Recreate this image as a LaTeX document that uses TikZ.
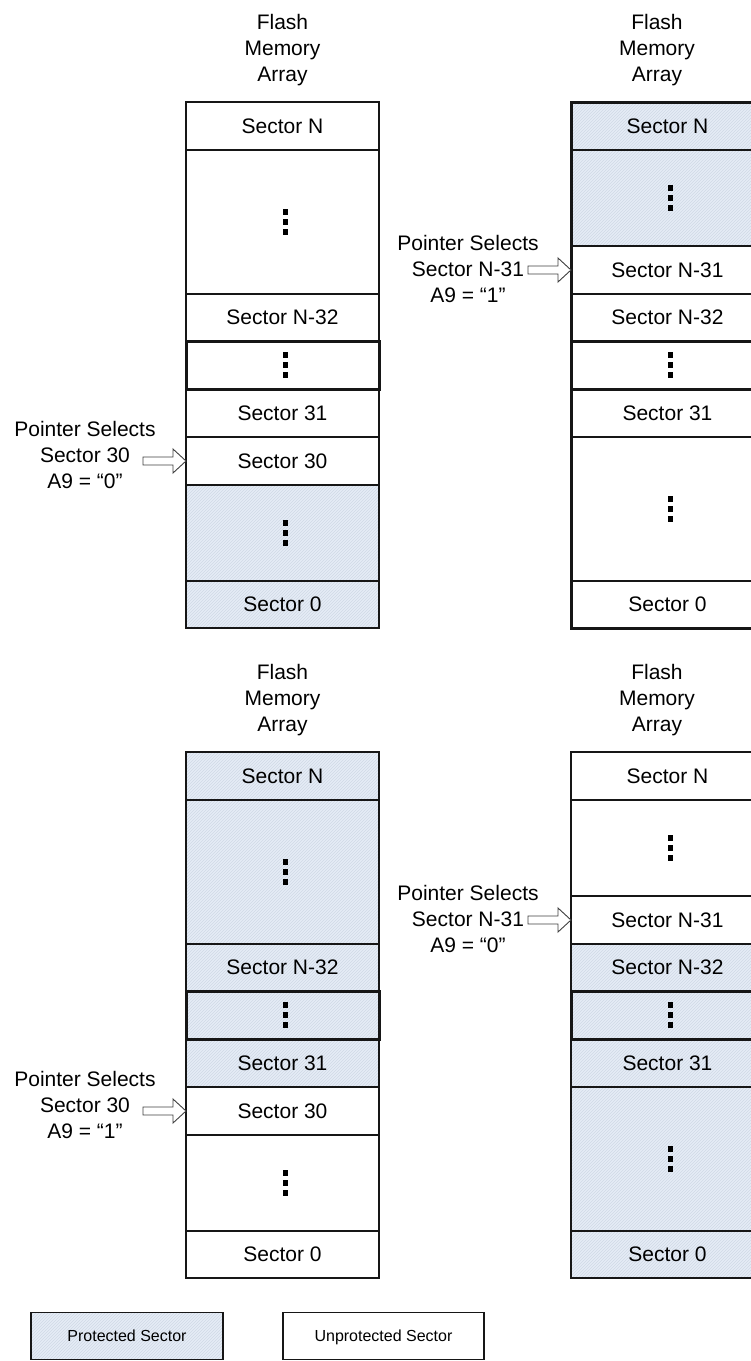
\documentclass[tikz,border=0pt]{standalone}
\usepackage{fontspec}
\setmainfont{Liberation Sans}
\usetikzlibrary{patterns}
\definecolor{protfill}{HTML}{E5ECF6}
\definecolor{protline}{HTML}{D0D9E6}
\definecolor{edge}{HTML}{161616}
\newcommand\lblfont{\fontsize{21}{26}\selectfont}
\newcommand\keyfont{\fontsize{16}{19}\selectfont}
% three square dots, nudged a bit to the right like the original
\newcommand\sqdots{\vbox{\offinterlineskip
  \hbox{\hskip6pt\rule{5.5pt}{5.5pt}}\vskip4.5pt
  \hbox{\hskip6pt\rule{5.5pt}{5.5pt}}\vskip4.5pt
  \hbox{\hskip6pt\rule{5.5pt}{5.5pt}}}}
% hollow block arrow pointing at the west side of a cell
\newcommand\selarrow[1]{\draw[ptr] (#1.west) -- ++(-13,-12) -- ++(0,8)
  -- ++(-30,0) -- ++(0,8) -- ++(30,0) -- ++(0,8) -- cycle;}

\begin{document}
\begin{tikzpicture}[x=1pt,y=-1pt,
    cell/.style={draw=edge,line width=1.6pt,minimum width=193pt,inner sep=0pt,
                 outer sep=0pt,anchor=north,font=\lblfont},
    prot/.style={cell,preaction={fill=protfill},pattern=north east lines,
                 pattern color=protline},
    key/.style={font=\keyfont,text depth=0pt,minimum height=47pt},
    hd/.style={font=\lblfont,align=center,inner sep=0pt},
    ptr/.style={draw=black!75,line width=0.9pt,fill=white,line join=miter},
    heavy/.style={draw=edge,line width=3pt}]
  \path[use as bounding box,clip] (0,0) rectangle (751,1361);

  % top left array
  \node[hd] (ta) at (282.5,50) {Flash\\Memory\\Array};
  \node[cell,minimum height=48pt] (aN) at (282.5,102) {Sector N};
  \node[cell,minimum height=144pt] (aU) at (282.5,150) {\sqdots};
  \node[cell,minimum height=47pt] (aN32) at (282.5,294) {Sector N-32};
  \node[cell,minimum height=48pt] (aM) at (282.5,341) {\sqdots};
  \node[cell,minimum height=48pt] (a31) at (282.5,389) {Sector 31};
  \node[cell,minimum height=48pt] (a30) at (282.5,437) {Sector 30};
  \node[prot,minimum height=96pt] (aL) at (282.5,485) {\sqdots};
  \node[prot,minimum height=47pt] (a0) at (282.5,581) {Sector 0};
  \draw[heavy] (aM.north west) rectangle (aM.south east);
  \node[hd] (pa) at (85,455) {Pointer Selects\\Sector 30\\A9 = “0”};
  \selarrow{a30}

  % top right array
  \node[hd] (tb) at (657,50) {Flash\\Memory\\Array};
  \node[prot,minimum height=48pt] (bN) at (667.5,102) {Sector N};
  \node[prot,minimum height=96pt] (bU) at (667.5,150) {\sqdots};
  \node[cell,minimum height=48pt] (bN31) at (667.5,246) {Sector N-31};
  \node[cell,minimum height=47pt] (bN32) at (667.5,294) {Sector N-32};
  \node[cell,minimum height=48pt] (bM) at (667.5,341) {\sqdots};
  \node[cell,minimum height=48pt] (b31) at (667.5,389) {Sector 31};
  \node[cell,minimum height=144pt] (bL) at (667.5,437) {\sqdots};
  \node[cell,minimum height=47pt] (b0) at (667.5,581) {Sector 0};
  \draw[heavy] (bM.north west) rectangle (bM.south east);
  \draw[heavy] (bN.north west) rectangle (b0.south east);
  \node[hd] (pb) at (468,268.5) {Pointer Selects\\Sector N-31\\A9 = “1”};
  \selarrow{bN31}

  % bottom left array
  \node[hd] (tc) at (282.5,700) {Flash\\Memory\\Array};
  \node[prot,minimum height=48pt] (cN) at (282.5,752) {Sector N};
  \node[prot,minimum height=144pt] (cU) at (282.5,800) {\sqdots};
  \node[prot,minimum height=47pt] (cN32) at (282.5,944) {Sector N-32};
  \node[prot,minimum height=48pt] (cM) at (282.5,991) {\sqdots};
  \node[prot,minimum height=48pt] (c31) at (282.5,1039) {Sector 31};
  \node[cell,minimum height=48pt] (c30) at (282.5,1087) {Sector 30};
  \node[cell,minimum height=96pt] (cL) at (282.5,1135) {\sqdots};
  \node[cell,minimum height=47pt] (c0) at (282.5,1231) {Sector 0};
  \draw[heavy] (cM.north west) rectangle (cM.south east);
  \node[hd] (pc) at (85,1105) {Pointer Selects\\Sector 30\\A9 = “1”};
  \selarrow{c30}

  % bottom right array
  \node[hd] (td) at (657,700) {Flash\\Memory\\Array};
  \node[cell,minimum height=48pt] (dN) at (667.5,752) {Sector N};
  \node[cell,minimum height=96pt] (dU) at (667.5,800) {\sqdots};
  \node[cell,minimum height=48pt] (dN31) at (667.5,896) {Sector N-31};
  \node[prot,minimum height=47pt] (dN32) at (667.5,944) {Sector N-32};
  \node[prot,minimum height=48pt] (dM) at (667.5,991) {\sqdots};
  \node[prot,minimum height=48pt] (d31) at (667.5,1039) {Sector 31};
  \node[prot,minimum height=144pt] (dL) at (667.5,1087) {\sqdots};
  \node[prot,minimum height=47pt] (d0) at (667.5,1231) {Sector 0};
  \draw[heavy] (dM.north west) rectangle (dM.south east);
  \node[hd] (pd) at (468,918.5) {Pointer Selects\\Sector N-31\\A9 = “0”};
  \selarrow{dN31}

  % key
  \node[prot,key,minimum width=192pt] (kp) at (127,1312.5) {Protected Sector};
  \node[cell,key,minimum width=201pt] (ku) at (383.5,1312.5) {Unprotected Sector};
\end{tikzpicture}
\end{document}
